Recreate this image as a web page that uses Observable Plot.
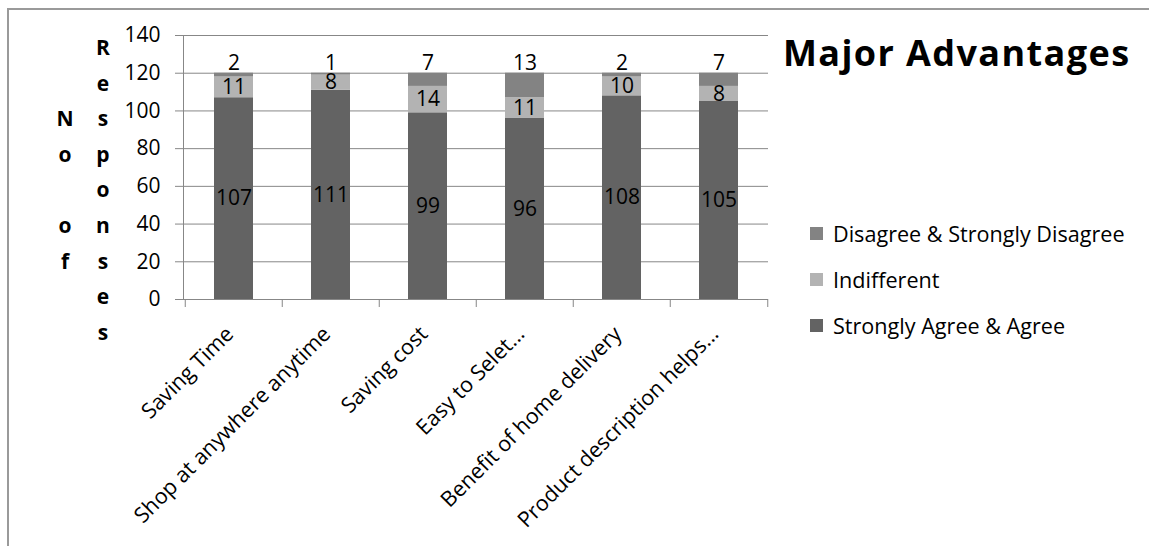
<!DOCTYPE html>
<html>
<head>
<meta charset="utf-8">
<script src="https://cdn.jsdelivr.net/npm/d3@7"></script>
<script src="https://cdn.jsdelivr.net/npm/@observablehq/plot@0.6"></script>
<style>
  html, body { margin: 0; padding: 0; background: #fff; }
  #wrap { position: relative; width: 1149px; height: 546px; overflow: hidden; font-family: "Open Sans", sans-serif; color: #000; }
  #border { position: absolute; left: 7px; top: 8px; width: 2000px; height: 2000px; border-top: 2px solid #9a9a9a; border-left: 2px solid #9a9a9a; pointer-events: none; }
  #title { position: absolute; left: 783px; top: 35px; font-size: 36px; line-height: 36px; font-weight: 700; letter-spacing: 1.4px; white-space: nowrap; }
  .ycol { position: absolute; font-size: 21px; font-weight: 700; line-height: 35.6px; text-align: center; width: 24px; }
  #legend { position: absolute; left: 810px; top: 0; }
  .li { position: absolute; left: 0; height: 24px; display: flex; align-items: center; white-space: nowrap; font-size: 21.6px; }
  .sw { width: 13px; height: 13px; margin-right: 10px; }
  #chart { position: absolute; left: 0; top: 0; }
</style>
</head>
<body>
<div id="wrap">
  <div id="chart"></div>
  <div id="border"></div>
  <div id="title"></div>
  <div id="ycol1" class="ycol"></div>
  <div id="ycol2" class="ycol"></div>
  <div id="legend"></div>
</div>
<script>
const categories = ["Saving Time", "Shop at anywhere anytime", "Saving cost", "Easy to Selet...", "Benefit of home delivery", "Product description helps..."];
const agree = [107, 111, 99, 96, 108, 105];
const indifferent = [11, 8, 14, 11, 10, 8];
const disagree = [2, 1, 7, 13, 2, 7];
const seriesNames = ["Strongly Agree & Agree", "Indifferent", "Disagree & Strongly Disagree"];
const seriesColors = ["#636363", "#b3b3b3", "#838383"];
const yTicks = [0, 20, 40, 60, 80, 100, 120, 140];
const titleText = "Major Advantages";
const yTitleCol1 = ["", "", "N", "o", "", "o", "f"];
const yTitleCol2 = ["R", "e", "s", "p", "o", "n", "s", "e", "s"];

const seriesValues = [agree, indifferent, disagree];
const rows = categories.flatMap((c, i) => seriesNames.map((s, k) => ({category: c, series: s, value: seriesValues[k][i]})));

const W = 1149, H = 546;
const mL = 183, mR = 381, mT = 35, mB = 247;
const step = (W - mL - mR) / categories.length;
const grey = "#878787";

const chart = Plot.plot({
  width: W, height: H,
  marginLeft: mL, marginRight: mR, marginTop: mT, marginBottom: mB,
  style: {fontFamily: "Open Sans", fontSize: "21px", color: "#000", background: "transparent", overflow: "visible"},
  x: {type: "band", domain: categories, paddingInner: 0.6, paddingOuter: 0.3, axis: null},
  y: {domain: [0, 140], axis: null},
  color: {domain: seriesNames, range: seriesColors},
  marks: [
    Plot.gridY(yTicks, {stroke: grey, strokeOpacity: 1, strokeWidth: 1}),
    Plot.barY(rows, {x: "category", y: "value", fill: "series"}),
    Plot.frame({anchor: "left", stroke: grey, strokeWidth: 1}),
    Plot.axisX({tickSize: 8, tickFormat: () => "", label: null, dx: -step / 2, stroke: grey}),
    Plot.axisX({ticks: [categories[categories.length - 1]], tickSize: 8, tickFormat: () => "", label: null, dx: step / 2, stroke: grey}),
    Plot.axisX({tickSize: 0, tickRotate: -45, tickPadding: 31, dx: -4, label: null, fill: "#000", fontSize: 21.5}),
    Plot.axisY({ticks: yTicks, tickSize: 8, tickPadding: 15, label: null, stroke: grey, fill: "#000", fontSize: 21}),
    Plot.text(rows, Plot.stackY({x: "category", y: "value", z: "series", text: d => d.series !== seriesNames[2] ? String(d.value) : "", fill: "#000", fontSize: 21})),
    Plot.text(rows, Plot.stackY2({x: "category", y: "value", z: "series", text: d => d.series === seriesNames[2] ? String(d.value) : "", fill: "#000", fontSize: 21, dy: -10}))
  ]
});
document.getElementById("chart").appendChild(chart);

document.getElementById("title").textContent = titleText;

const c1 = document.getElementById("ycol1");
c1.style.left = "53px"; c1.style.top = "30px";
c1.innerHTML = yTitleCol1.map(t => t === "" ? "&nbsp;" : t).join("<br>");
const c2 = document.getElementById("ycol2");
c2.style.left = "91px"; c2.style.top = "30px";
c2.innerHTML = yTitleCol2.join("<br>");

const legend = document.getElementById("legend");
const legendOrder = [2, 1, 0];
const legendTops = [221, 267, 313];
legendOrder.forEach((k, j) => {
  const item = document.createElement("div");
  item.className = "li";
  item.style.top = legendTops[j] + "px";
  const sw = document.createElement("span");
  sw.className = "sw";
  sw.style.background = seriesColors[k];
  const label = document.createElement("span");
  label.textContent = seriesNames[k];
  item.appendChild(sw); item.appendChild(label);
  legend.appendChild(item);
});
</script>
</body>
</html>
